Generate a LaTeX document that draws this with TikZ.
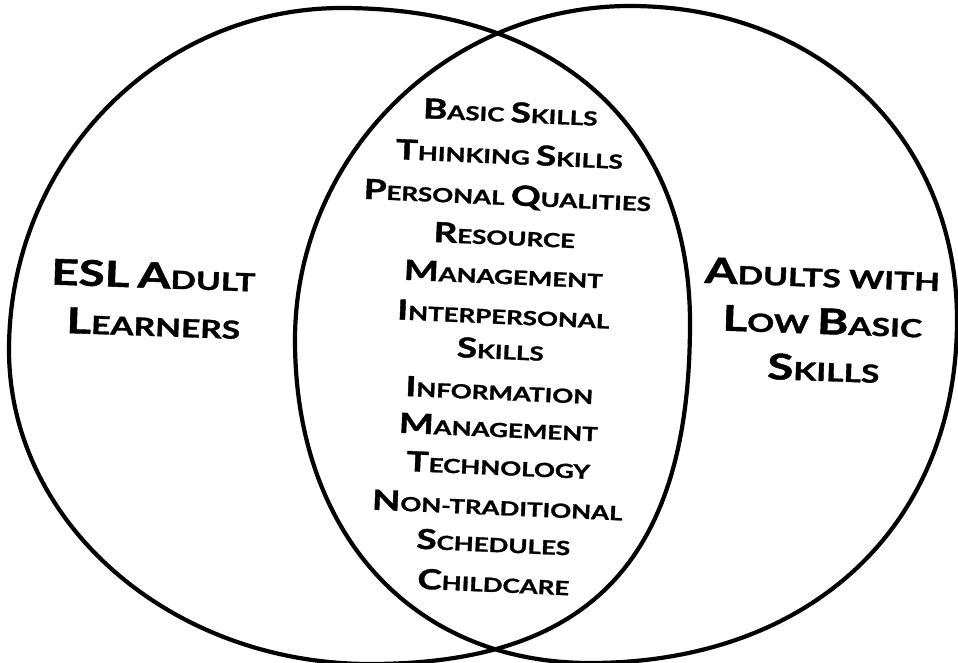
\documentclass[tikz,border=0pt]{standalone}
\usepackage{fontspec}
\setmainfont{Lato}[BoldFeatures={FakeBold=1.2}]

\makeatletter
\newcommand\ini[1]{{\fontsize{\fpeval{1.42*\f@size}}{\f@baselineskip}\selectfont#1}}
\makeatother

\begin{document}
\begin{tikzpicture}[x=1pt, y=-1pt]

  \tikzstyle{ring} = [line width=4.2, black]
  \tikzstyle{item} = [font=\bfseries\fontsize{19.5}{20}\selectfont, anchor=base, inner sep=0, rotate=-2.5, xscale=1.33]
  \tikzstyle{side} = [font=\bfseries\fontsize{25}{26}\selectfont, anchor=base, inner sep=0, rotate=-2, xscale=1.34]

  \useasboundingbox (0,0) rectangle (958,662);

  % left group
  \draw[ring] (690,323) .. controls (690,128) and (558,8) .. (342,8)
    .. controls (158,8) and (9,161) .. (9,350)
    .. controls (9,523) and (171,664) .. (370,664)
    .. controls (591,664) and (690,558) .. cycle;

  % right group
  \draw[ring] (957,320) .. controls (957,138) and (820,6) .. (630,6)
    .. controls (446,6) and (295,156) .. (295,340)
    .. controls (295,534) and (413,663) .. (590,663)
    .. controls (810,663) and (957,526) .. cycle;

  \node[side] (esl) at (153,288) {\ini{ESL} \ini{A}DULT};
  \node[side] (learners) at (153,336) {\ini{L}EARNERS};

  \node[side] (adults) at (822,287) {\ini{A}DULTS WITH};
  \node[side] (lowbasic) at (822,334) {\ini{L}OW \ini{B}ASIC};
  \node[side] (skills) at (823,381) {\ini{S}KILLS};

  % shared needs
  \node[item] (basic) at (510,122) {\ini{B}ASIC \ini{S}KILLS};
  \node[item] (thinking) at (509,164) {\ini{T}HINKING \ini{S}KILLS};
  \node[item] (personal) at (507,205) {\ini{P}ERSONAL \ini{Q}UALITIES};
  \node[item] (resource) at (504,245) {\ini{R}ESOURCE};
  \node[item] (resmgmt) at (503,284) {\ini{M}ANAGEMENT};
  \node[item] (interp) at (503,324) {\ini{I}NTERPERSONAL};
  \node[item] (interskills) at (500,359) {\ini{S}KILLS};
  \node[item] (info) at (499,400) {\ini{I}NFORMATION};
  \node[item] (infomgmt) at (498,437) {\ini{M}ANAGEMENT};
  \node[item] (tech) at (498,475) {\ini{T}ECHNOLOGY};
  \node[item] (nontrad) at (497,515) {\ini{N}ON-TRADITIONAL};
  \node[item] (sched) at (493,552) {\ini{S}CHEDULES};
  \node[item] (child) at (493,592) {\ini{C}HILDCARE};

\end{tikzpicture}
\end{document}
